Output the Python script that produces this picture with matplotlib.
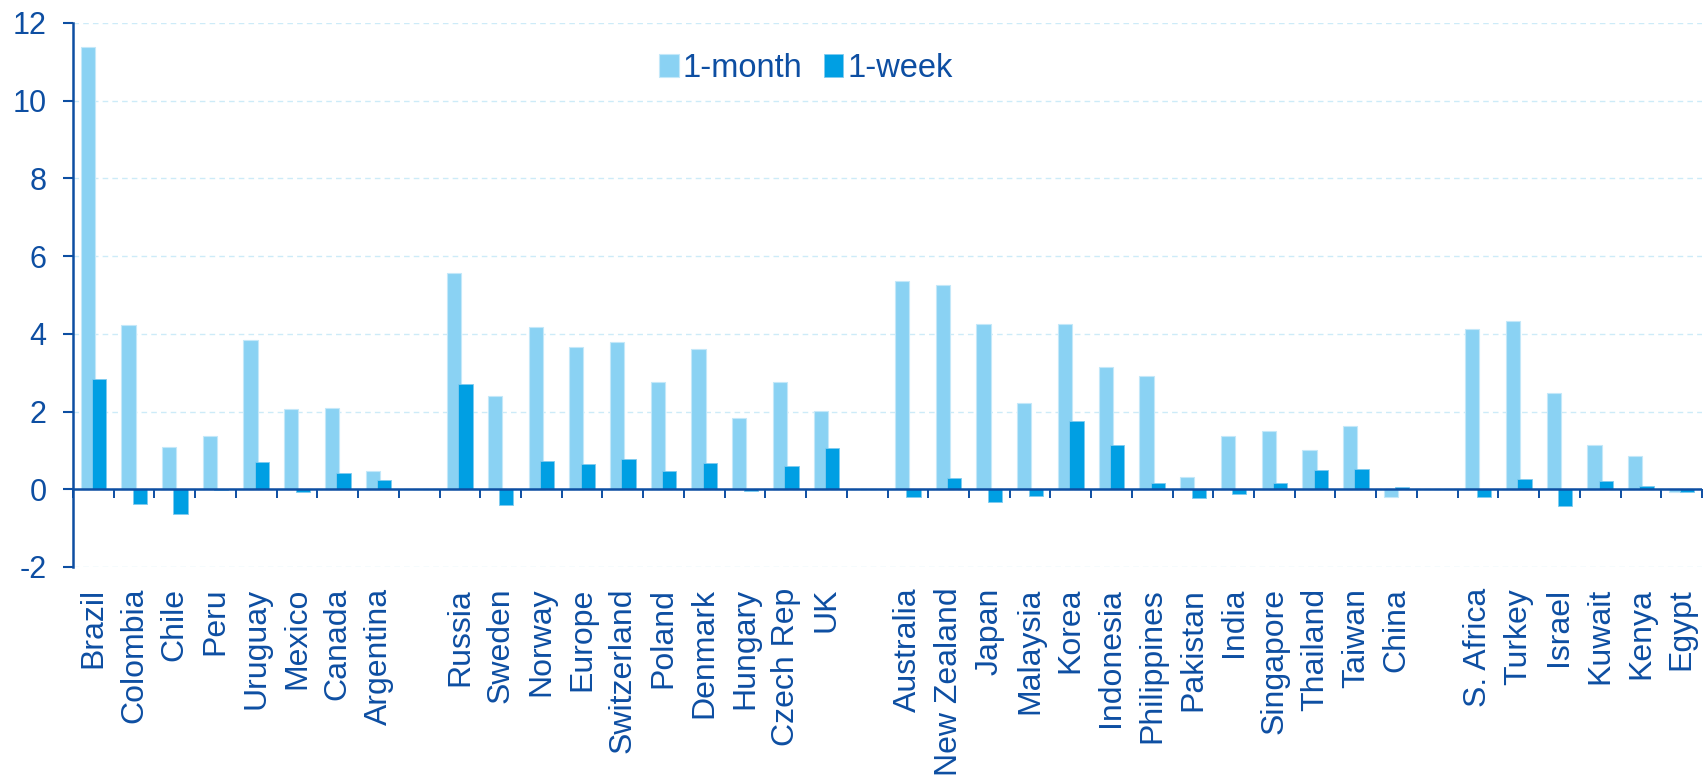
import numpy as np
import matplotlib
matplotlib.use("Agg")
import matplotlib.pyplot as plt
from matplotlib.ticker import FixedLocator, FuncFormatter

plt.rcParams['font.family'] = ['Liberation Sans', 'DejaVu Sans']

# ---- data (empty strings / NaN mark the gaps between regional groups) ----
categories = ["Brazil", "Colombia", "Chile", "Peru", "Uruguay", "Mexico", "Canada", "Argentina", "",
              "Russia", "Sweden", "Norway", "Europe", "Switzerland", "Poland", "Denmark", "Hungary",
              "Czech Rep", "UK", "",
              "Australia", "New Zealand", "Japan", "Malaysia", "Korea", "Indonesia", "Philippines",
              "Pakistan", "India", "Singapore", "Thailand", "Taiwan", "China", "",
              "S. Africa", "Turkey", "Israel", "Kuwait", "Kenya", "Egypt"]

one_month = [11.37, 4.23, 1.09, 1.37, 3.85, 2.07, 2.09, 0.47, np.nan,
             5.56, 2.40, 4.17, 3.67, 3.80, 2.76, 3.62, 1.84, 2.76, 2.02, np.nan,
             5.36, 5.26, 4.26, 2.23, 4.26, 3.15, 2.92, 0.32, 1.38, 1.49, 1.00, 1.62, -0.21, np.nan,
             4.13, 4.32, 2.49, 1.13, 0.86, -0.08]

one_week = [2.83, -0.38, -0.63, -0.02, 0.69, -0.08, 0.42, 0.25, np.nan,
            2.72, -0.41, 0.74, 0.65, 0.79, 0.46, 0.67, -0.05, 0.61, 1.07, np.nan,
            -0.21, 0.30, -0.34, -0.17, 1.77, 1.13, 0.16, -0.22, -0.12, 0.16, 0.50, 0.51, 0.05, np.nan,
            -0.21, 0.26, -0.44, 0.22, 0.08, -0.06]

series_names = ["1-month", "1-week"]
y_ticks = [-2, 0, 2, 4, 6, 8, 10, 12]

# ---- style ----
c_light = "#8AD2F3"
c_dark = "#009FE3"
c_text = "#0D4EA2"
c_grid = "#CDEBF8"

fig = plt.figure(figsize=(17.07, 7.77), dpi=100)
ax = fig.add_axes([73 / 1707, 1 - 567 / 777, 1629 / 1707, 544 / 777])

x = np.arange(len(categories))
w = 0.35
off = 0.14
ax.bar(x - off, one_month, width=w, color=c_light, edgecolor="#C4E8F9", linewidth=0.8,
       label=series_names[0], zorder=2)
ax.bar(x + off, one_week, width=w, color=c_dark, edgecolor="#7FCBEF", linewidth=0.6,
       label=series_names[1], zorder=2.1)

ax.set_xlim(-0.5, len(categories) - 0.5)
ax.set_ylim(-2, 12)

# y axis
ax.yaxis.set_major_locator(FixedLocator(y_ticks))
ax.yaxis.set_major_formatter(FuncFormatter(lambda v, p: f"{v:.0f}".replace("\u2212", "-")))
ax.tick_params(axis='y', direction='out', length=7, width=1.5, colors=c_text,
               labelsize=22, pad=12)
ax.grid(axis='y', color=c_grid, linestyle=(0, (4, 3)), linewidth=1.0, zorder=0)
ax.set_axisbelow(True)

for s in ['top', 'right', 'bottom']:
    ax.spines[s].set_visible(False)
ax.spines['left'].set_color(c_text)
ax.spines['left'].set_linewidth(1.8)

# category labels at the bottom
ax.set_xticks(x)
ax.set_xticklabels(categories, rotation=90, va='top', ha='center')
ax.tick_params(axis='x', length=0, labelsize=23, labelcolor=c_text, pad=15)

# zero line with boundary ticks
sec = ax.secondary_xaxis(2 / 14)
sec.set_xticks(np.arange(len(categories) + 1) - 0.5)
sec.tick_params(axis='x', direction='out', length=6.5, width=1.4, color=c_text,
                labelbottom=False, labeltop=False)
sec.set_xticklabels([])
for s in sec.spines.values():
    s.set_visible(False)
ax.axhline(0, color=c_text, linewidth=1.8, zorder=3)

leg = ax.legend(loc='center left', bbox_to_anchor=(0.36, 0.916), ncol=2, frameon=False,
                fontsize=23.5, handlelength=0.6, handleheight=0.7, handletextpad=0.12,
                columnspacing=0.65, borderpad=0, borderaxespad=0)
for t in leg.get_texts():
    t.set_color(c_text)

fig.savefig("out.png", dpi=100, facecolor="white")
